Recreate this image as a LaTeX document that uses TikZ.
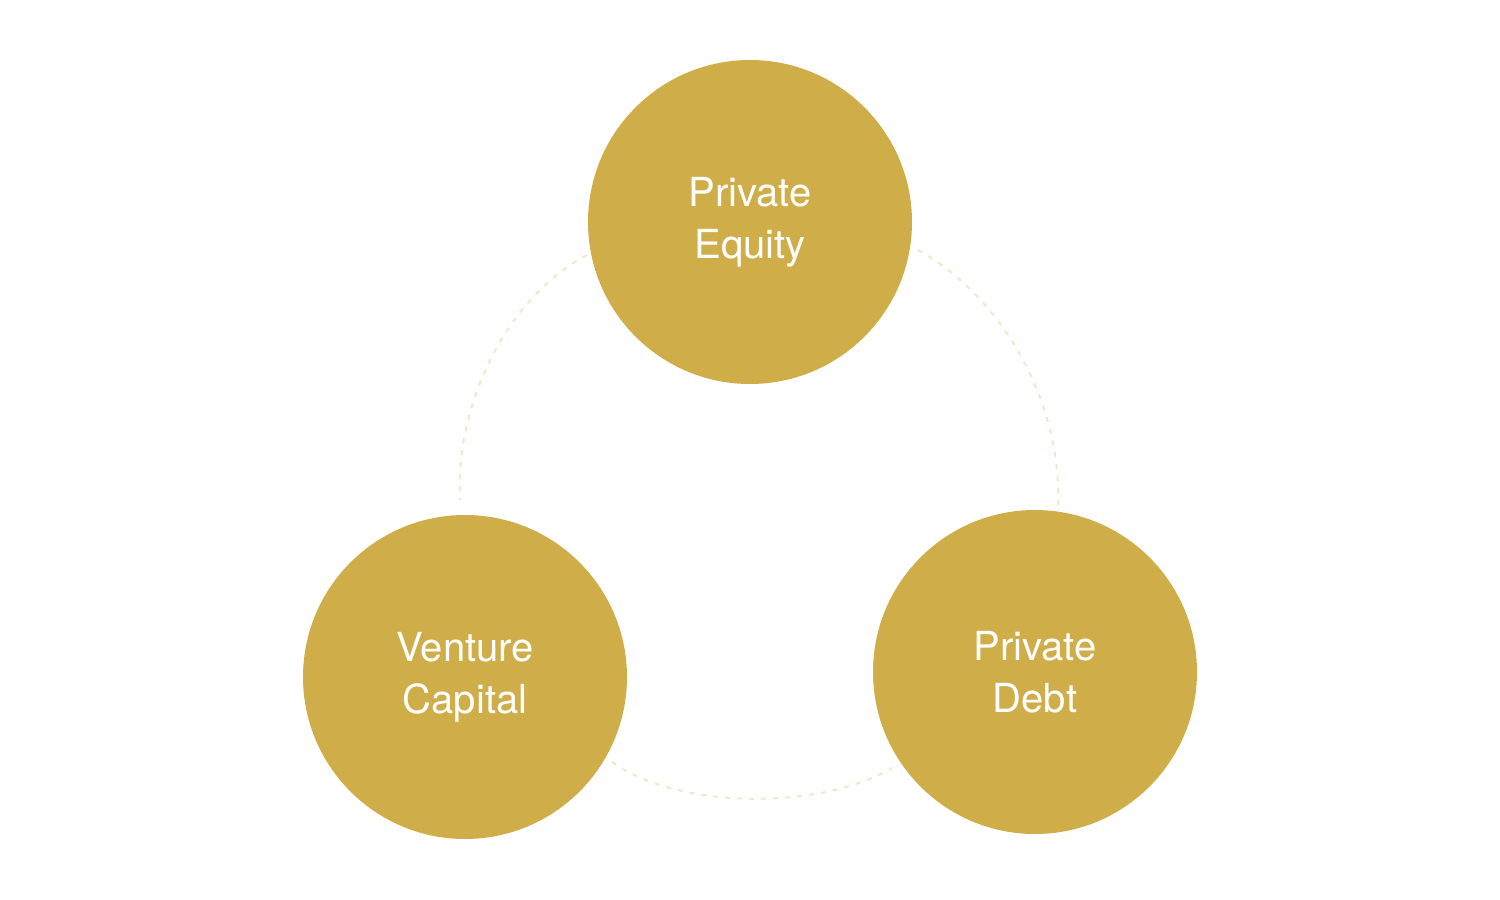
\documentclass[tikz,border=0pt]{standalone}
\usepackage{fontspec}
\setmainfont{TeX Gyre Heros}
\definecolor{gold}{HTML}{CFAE4A}
\definecolor{pale}{HTML}{F1E8CC}
\begin{document}
\begin{tikzpicture}[x=1pt,y=-1pt,
  bub/.style={circle,fill=gold,minimum size=324pt,inner sep=0pt,text=white,align=center,font=\fontsize{40}{52}\selectfont},
  arcline/.style={draw=pale,line width=2pt,dash pattern=on 5pt off 7pt}]
\useasboundingbox (0,0) rectangle (1500,900);
\node[bub] (pe) at (750,222) {Private\\Equity};
\node[bub] (vc) at (465,677) {Venture\\Capital};
\node[bub] (pd) at (1035,672) {Private\\Debt};
\coordinate (a1) at (587,255);
\coordinate (a2) at (460,500);
\coordinate (b1) at (918,250);
\coordinate (b2) at (1058,505);
\coordinate (c1) at (612,762);
\coordinate (c2) at (892,768);
\draw[arcline] (a1) .. controls (510,295) and (455,400) .. (a2);
\draw[arcline] (b1) .. controls (1000,295) and (1062,400) .. (b2);
\draw[arcline] (c1) .. controls (680,810) and (820,810) .. (c2);
\end{tikzpicture}
\end{document}
